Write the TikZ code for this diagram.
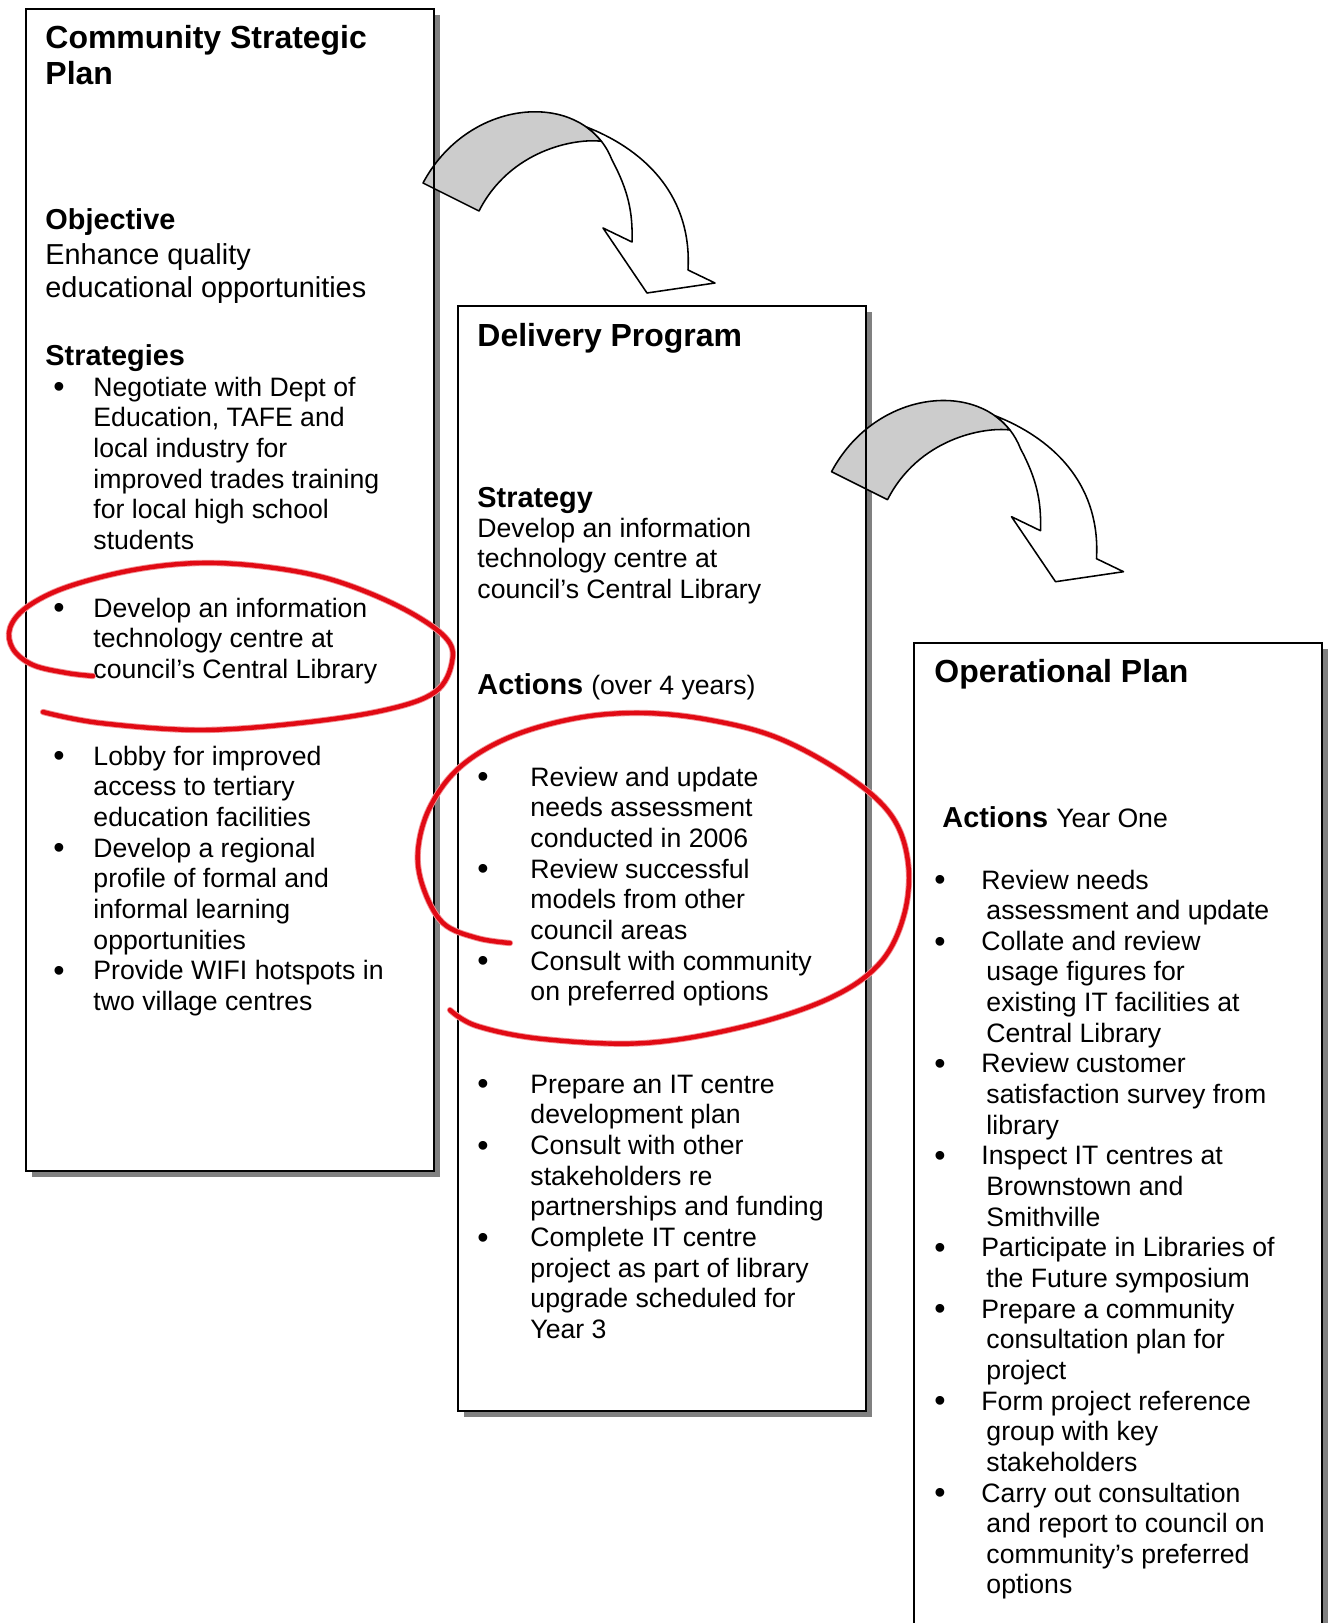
\documentclass[tikz,border=0pt]{standalone}
\usepackage{fontspec}
\setmainfont{Liberation Sans}
\definecolor{penred}{RGB}{225,10,20}
\tikzset{
  txt/.style={anchor=base west, inner sep=0pt, font=\fontsize{12}{14}\selectfont},
  txtbig/.style={anchor=base west, inner sep=0pt, font=\fontsize{13}{15}\selectfont},
  head/.style={anchor=base west, inner sep=0pt, font=\fontsize{13}{15}\selectfont\bfseries},
  title/.style={anchor=base west, inner sep=0pt, font=\fontsize{14.4}{16}\selectfont\bfseries},
  bul/.style={anchor=base, inner sep=0pt, yshift=-0.8pt, font=\fontsize{14.5}{16}\selectfont},
  boxshadow/.style={fill=black!50},
  boxline/.style={draw=black, line width=0.8pt},
  arrowback/.style={fill=black!20, draw=black, line width=0.7pt, line join=round},
  arrowfront/.style={fill=white, draw=black, line width=0.7pt, line join=round},
  redpen/.style={draw=penred, line width=2pt, line cap=round, line join=round},
  redhalo/.style={draw=penred!45, line width=2.8pt, line cap=round, line join=round}
}
\begin{document}
\begin{tikzpicture}[x=0.4505pt,y=-0.4505pt]
\useasboundingbox (0,0) rectangle (1328,1623);
\clip (0,0) rectangle (1328,1623);
% boxes, shadow first
\foreach \l/\t/\r/\b in {26/9/434/1171, 458/306/866/1411, 914/643/1322/1700} {
  \fill[boxshadow] (\l+6,\t+6) rectangle (\r+6,\b+6);
  \fill[white] (\l,\t) rectangle (\r,\b);
}
% curved arrows
\foreach \dx/\dy in {0/0, 408.5/288.7} {
  \begin{scope}[shift={(\dx,\dy)}]
    \filldraw[arrowback] (423,183) .. controls (465.3,103.8) and (562.7,91.8) .. (601.4,141.3)
      .. controls (575,138) and (510,150) .. (479,211) -- cycle;
    \filldraw[arrowfront] (586.5,127) .. controls (650,152) and (692,200) .. (688,270)
      -- (715,283) -- (647,293) -- (603,228) -- (632,242)
      .. controls (633,212) and (628,190) .. (612,160)
      .. controls (606.6,146) and (597.7,135) .. (586.5,127) -- cycle;
  \end{scope}
}
\foreach \l/\t/\r/\b in {26/9/434/1171, 458/306/866/1411, 914/643/1322/1700}
  \draw[boxline] (\l,\t) rectangle (\r,\b);

% Community Strategic Plan
\node[title] (csp-t1) at (45,49) {Community Strategic};
\node[title] (csp-t2) at (45,85) {Plan};
\node[head] (csp-obj) at (45,229) {Objective};
\node[txtbig] (csp-o1) at (45,264) {Enhance quality};
\node[txtbig] (csp-o2) at (45,297) {educational opportunities};
\node[head] (csp-str) at (45,365) {Strategies};
\foreach \s [count=\i from 0] in {Negotiate with Dept of, {Education, TAFE and}, local industry for,
    improved trades training, for local high school, students}
  \node[txt] (csp-a\i) at (93,{396+30.7*\i}) {\s};
\foreach \s [count=\i from 0] in {Develop an information, technology centre at, council’s Central Library}
  \node[txt] (csp-b\i) at (93,{617+30.7*\i}) {\s};
\foreach \s [count=\i from 0] in {Lobby for improved, access to tertiary, education facilities,
    Develop a regional, profile of formal and, informal learning, opportunities,
    Provide WIFI hotspots in, two village centres}
  \node[txt] (csp-c\i) at (93,{765+30.7*\i}) {\s};
\foreach \y [count=\i] in {396,617,765,857.1,979.9}
  \node[bul] (csp-dot\i) at (59,\y) {\textbullet};

% Delivery Program
\node[title] (dp-t) at (477,346) {Delivery Program};
\node[head] (dp-str) at (477,507) {Strategy};
\foreach \s [count=\i from 0] in {Develop an information, technology centre at, council’s Central Library}
  \node[txt] (dp-s\i) at (477,{537+30.7*\i}) {\s};
\node[head] (dp-act) at (477,694) {Actions \fontsize{12}{14}\selectfont\mdseries(over 4 years)};
\foreach \s [count=\i from 0] in {Review and update, needs assessment, conducted in 2006,
    Review successful, models from other, council areas, Consult with community, on preferred options}
  \node[txt] (dp-a\i) at (530,{786+30.7*\i}) {\s};
\foreach \s [count=\i from 0] in {Prepare an IT centre, development plan, Consult with other,
    stakeholders re, partnerships and funding, Complete IT centre, project as part of library,
    upgrade scheduled for, Year 3}
  \node[txt] (dp-b\i) at (530,{1093+30.7*\i}) {\s};
\foreach \j [count=\i] in {0,3,6}
  \node[bul] (dp-dot\i) at (483,{786+30.7*\j}) {\textbullet};
\foreach \j [count=\i] in {0,2,5}
  \node[bul] (dp-dotb\i) at (483,{1093+30.7*\j}) {\textbullet};

% Operational Plan
\node[title] (op-t) at (934,682) {Operational Plan};
\node[head] (op-act) at (942,827) {Actions \fontsize{12}{14}\selectfont\mdseries Year One};
\foreach \x/\s [count=\i from 0] in {981/Review needs, 986/assessment and update, 981/Collate and review,
    986/usage figures for, 986/existing IT facilities at, 986/Central Library, 981/Review customer,
    986/satisfaction survey from, 986/library, 981/Inspect IT centres at, 986/Brownstown and,
    986/Smithville, 981/Participate in Libraries of, 986/the Future symposium, 981/Prepare a community,
    986/consultation plan for, 986/project, 981/Form project reference, 986/group with key,
    986/stakeholders, 981/Carry out consultation, 986/and report to council on,
    986/community’s preferred, 986/options}
  \node[txt] (op-a\i) at (\x,{889+30.65*\i}) {\s};
\foreach \j [count=\i] in {0,2,6,9,12,14,17,20}
  \node[bul] (op-dot\i) at (940,{889+30.65*\j}) {\textbullet};

% red pen marks
\foreach \pen in {redhalo, redpen} {
\draw[\pen] plot[smooth, tension=0.6] coordinates {(93,676) (67,673) (33,665) (13,649) (10,628)
  (27,607) (67,587) (133,570) (200,563) (267,567) (333,580) (400,607) (445,637) (452,662)
  (435,692) (385,710) (300,723) (200,730) (100,723) (43,712)};
\draw[\pen] plot[smooth, tension=0.6] coordinates {(510,943) (477,938) (443,923) (423,887)
  (418,850) (430,807) (460,767) (510,737) (577,718) (643,713) (710,720) (778,738) (846,775)
  (891,815) (908,862) (904,915) (880,963) (830,998) (746,1026) (645,1043) (543,1039)
  (477,1026) (450,1010)};
}
\end{tikzpicture}
\end{document}
